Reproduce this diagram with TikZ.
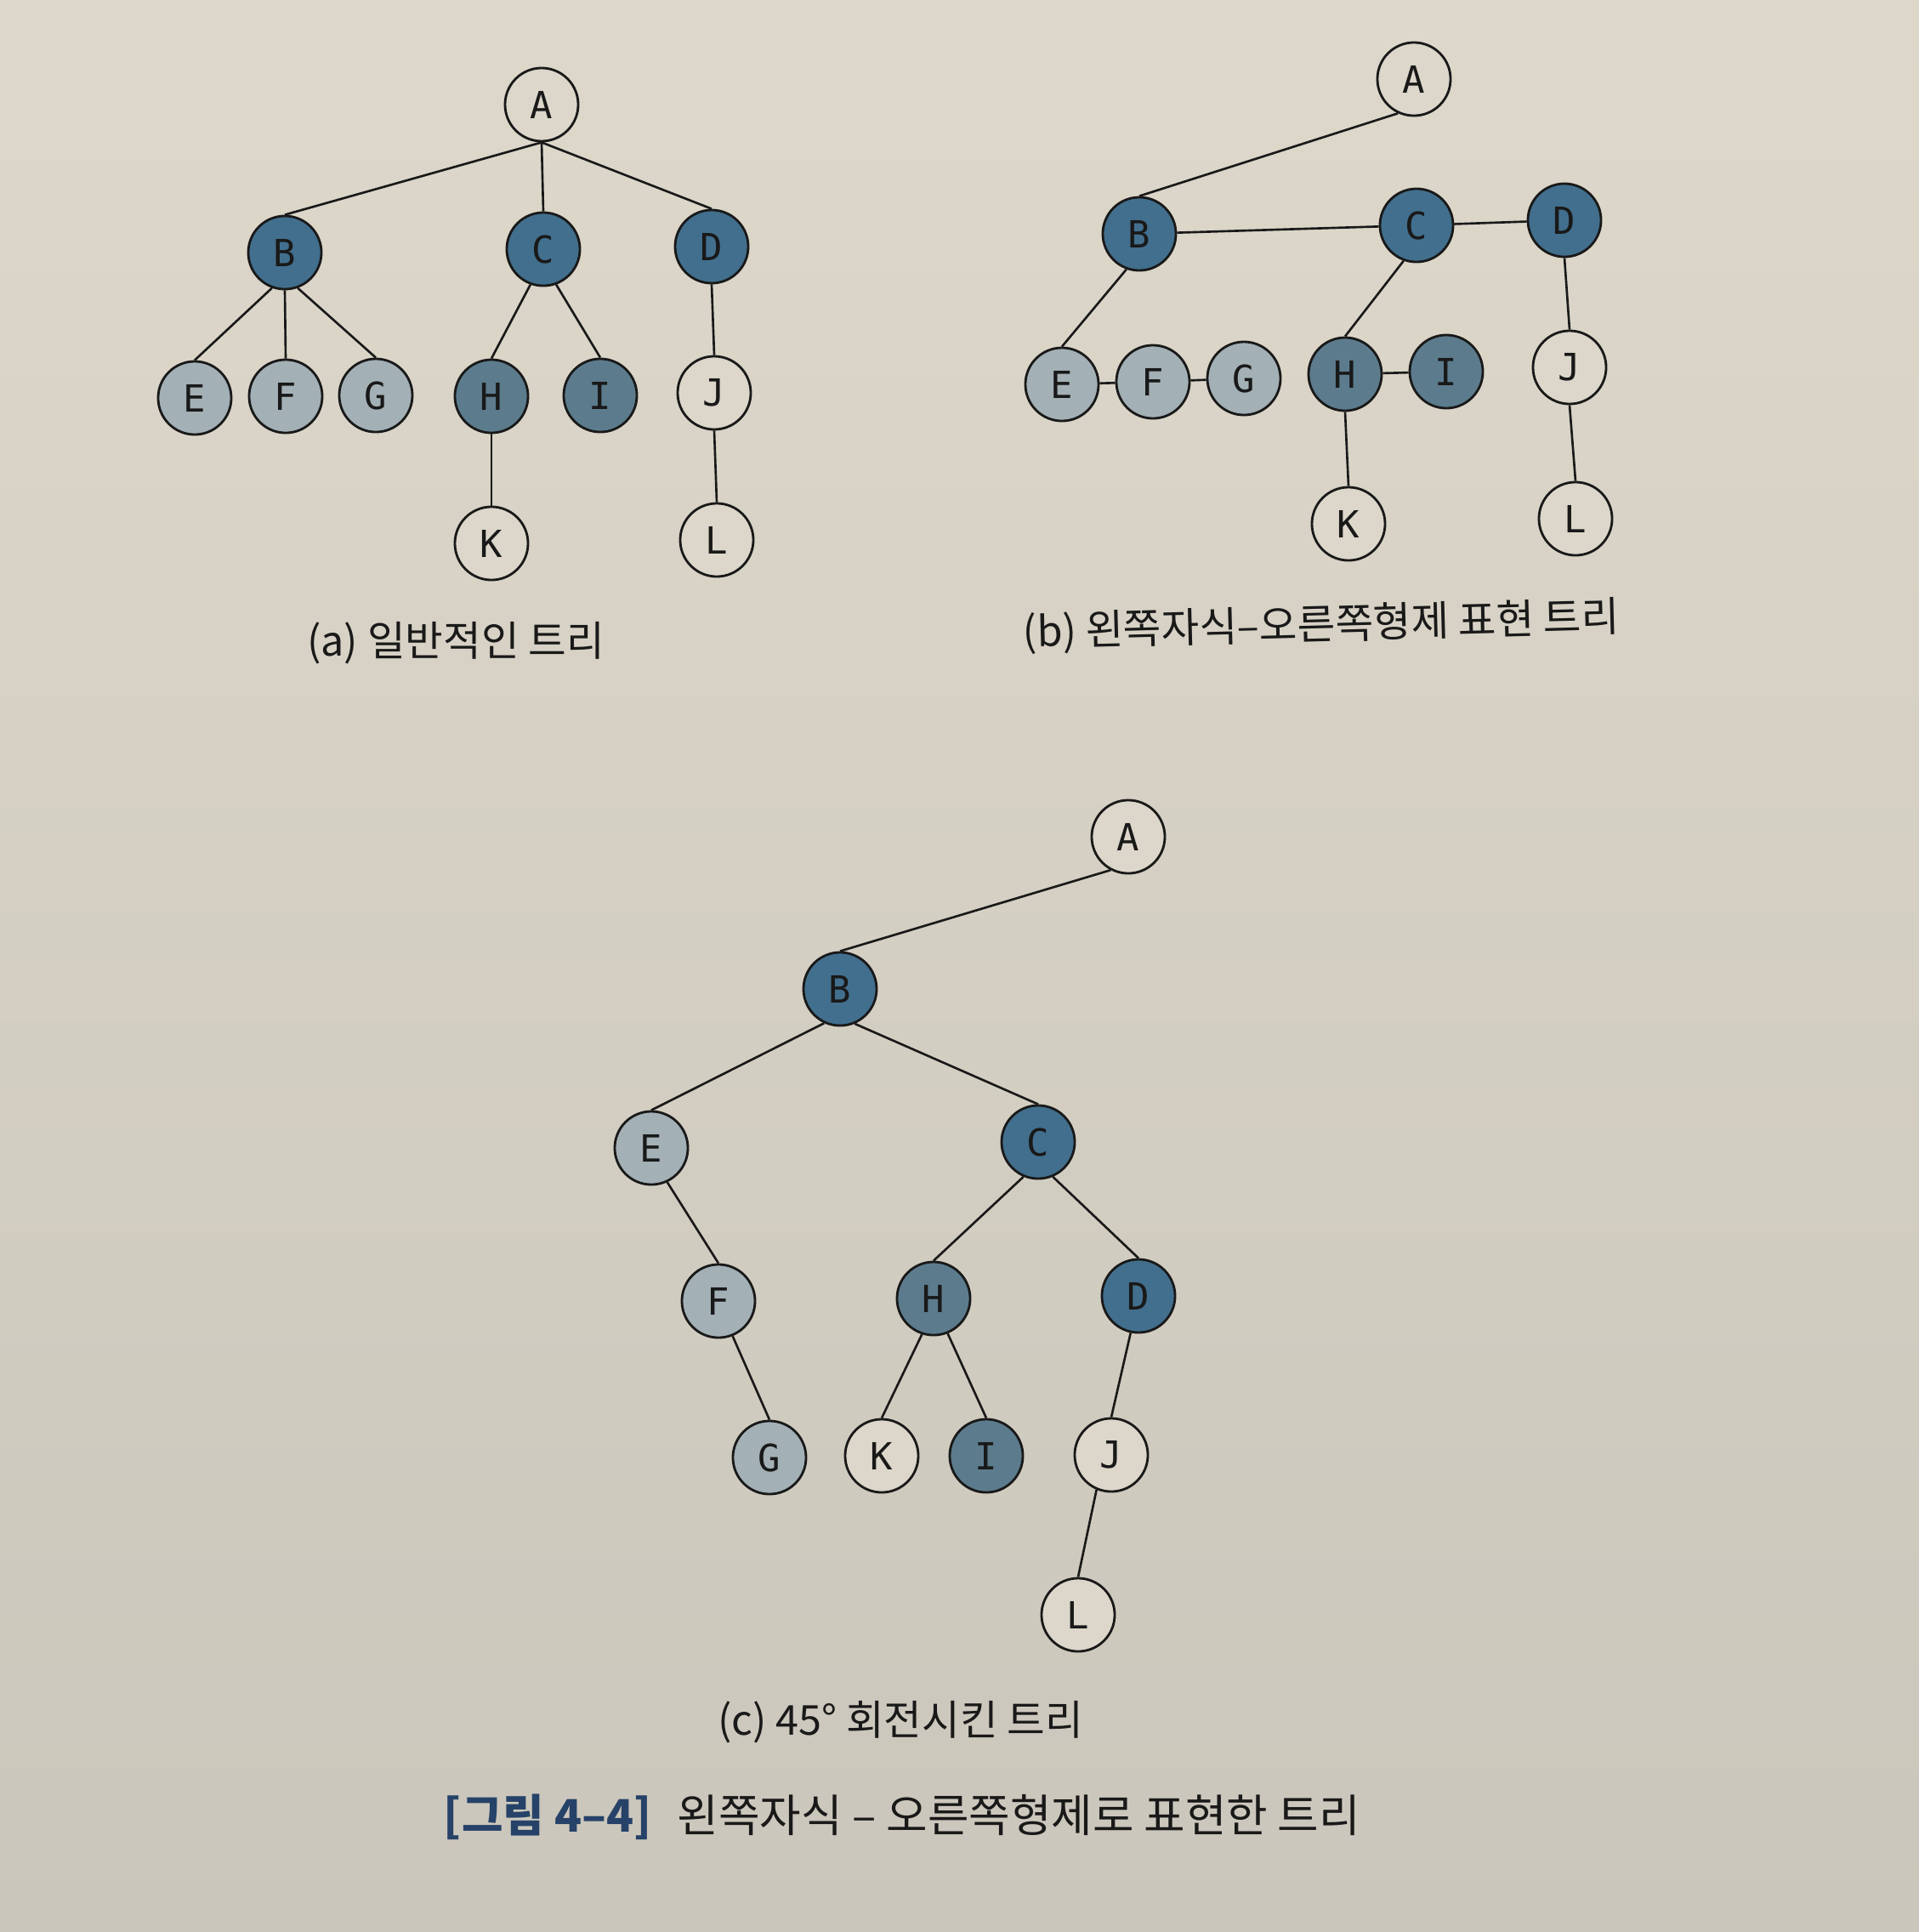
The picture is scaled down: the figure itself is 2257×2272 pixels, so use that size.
\documentclass[tikz,border=0pt]{standalone}
\usepackage{fontspec}
\newfontfamily\kr{Noto Sans CJK KR}
\newfontfamily\mono{DejaVu Sans Mono}
\definecolor{paperTop}{RGB}{221,216,202}
\definecolor{paperBot}{RGB}{203,198,187}
\definecolor{nodeDark}{RGB}{66,111,141}
\definecolor{nodeMid}{RGB}{92,124,141}
\definecolor{nodeLight}{RGB}{163,176,181}
\definecolor{nodeWhite}{RGB}{220,215,202}
\definecolor{capBlue}{RGB}{38,66,104}
\definecolor{ink}{RGB}{25,25,25}
\tikzset{
  nd/.style={circle, draw=ink, line width=0.8pt, minimum size=0.86cm, inner sep=0pt,
             font=\mono\fontsize{12.5}{12.5}\selectfont, text=ink},
  dk/.style={nd, fill=nodeDark},
  md/.style={nd, fill=nodeMid},
  lt/.style={nd, fill=nodeLight},
  wt/.style={nd, fill=nodeWhite},
  link/.style={line width=0.75pt, draw=ink},
  captext/.style={font=\kr\fontsize{13.8}{14}\selectfont, text=ink, inner sep=0pt},
  figtext/.style={font=\kr\fontsize{15}{15}\selectfont, text=ink, inner sep=0pt}
}
\begin{document}
\begin{tikzpicture}[x=0.01cm,y=-0.01cm]
\shade[top color=paperTop, bottom color=paperBot] (0,0) rectangle (2257,2272);
\useasboundingbox (0,0) rectangle (2257,2272);

% ---------- (a) general tree ----------
\node[wt] (aA) at (637,123) {A};
\node[dk] (aB) at (335,297) {B};
\node[dk] (aC) at (639,293) {C};
\node[dk] (aD) at (837,290) {D};
\node[lt] (aE) at (229,468) {E};
\node[lt] (aF) at (336,466) {F};
\node[lt] (aG) at (442,465) {G};
\node[md] (aH) at (578,466) {H};
\node[md] (aI) at (706,465) {I};
\node[wt] (aJ) at (840,462) {J};
\node[wt] (aK) at (578,639) {K};
\node[wt] (aL) at (843,635) {L};
\draw[link] (aA.south) -- (aB.north);
\draw[link] (aA.south) -- (aC.north);
\draw[link] (aA.south) -- (aD.north);
\draw[link] (aB.250) -- (aE.north);
\draw[link] (aB.south) -- (aF.north);
\draw[link] (aB.290) -- (aG.north);
\draw[link] (aC.250) -- (aH.north);
\draw[link] (aC.290) -- (aI.north);
\draw[link] (aD.south) -- (aJ.north);
\draw[link] (aH.south) -- (aK.north);
\draw[link] (aJ.south) -- (aL.north);
\node[captext] (capA) at (536,756) {(a) 일반적인 트리};

% ---------- (b) left-child right-sibling ----------
\node[wt] (bA) at (1663,93) {A};
\node[dk] (bB) at (1340,275) {B};
\node[dk] (bC) at (1666,265) {C};
\node[dk] (bD) at (1840,259) {D};
\node[lt] (bE) at (1249,452) {E};
\node[lt] (bF) at (1356,449) {F};
\node[lt] (bG) at (1463,445) {G};
\node[md] (bH) at (1582,440) {H};
\node[md] (bI) at (1701,437) {I};
\node[wt] (bJ) at (1846,432) {J};
\node[wt] (bK) at (1586,616) {K};
\node[wt] (bL) at (1853,610) {L};
\draw[link] (bA.245) -- (bB.north);
\draw[link] (bB) -- (bC);
\draw[link] (bC) -- (bD);
\draw[link] (bB.250) -- (bE.north);
\draw[link] (bE) -- (bF);
\draw[link] (bF) -- (bG);
\draw[link] (bC.250) -- (bH.north);
\draw[link] (bH) -- (bI);
\draw[link] (bH.south) -- (bK.north);
\draw[link] (bD.south) -- (bJ.north);
\draw[link] (bJ.south) -- (bL.north);
\node[captext, rotate=1.5] (capB) at (1554,736) {(b) 왼쪽자식–오른쪽형제 표현 트리};

% ---------- (c) rotated tree ----------
\node[wt] (cA) at (1327,984) {A};
\node[dk] (cB) at (988,1163) {B};
\node[lt] (cE) at (766,1350) {E};
\node[dk] (cC) at (1221,1343) {C};
\node[lt] (cF) at (845,1530) {F};
\node[md] (cH) at (1098,1527) {H};
\node[dk] (cD) at (1339,1524) {D};
\node[lt] (cG) at (905,1714) {G};
\node[wt] (cK) at (1037,1712) {K};
\node[md] (cI) at (1160,1712) {I};
\node[wt] (cJ) at (1307,1711) {J};
\node[wt] (cL) at (1268,1899) {L};
\draw[link] (cA.242) -- (cB.north);
\draw[link] (cB.245) -- (cE.north);
\draw[link] (cB.293) -- (cC.north);
\draw[link] (cE.295) -- (cF.north);
\draw[link] (cF.292) -- (cG.north);
\draw[link] (cC.247) -- (cH.north);
\draw[link] (cC.293) -- (cD.north);
\draw[link] (cH.252) -- (cK.north);
\draw[link] (cH.292) -- (cI.north);
\draw[link] (cD.258) -- (cJ.north);
\draw[link] (cJ.247) -- (cL.north);
\node[captext] (capC) at (1059,2025) {(c) 45° 회전시킨 트리};

% ---------- figure caption ----------
\node[figtext] (fig) at (1061,2137) {{\bfseries\color{capBlue}[그림 4–4]}\hspace{0.3cm}왼쪽자식 – 오른쪽형제로 표현한 트리};
\end{tikzpicture}
\end{document}
